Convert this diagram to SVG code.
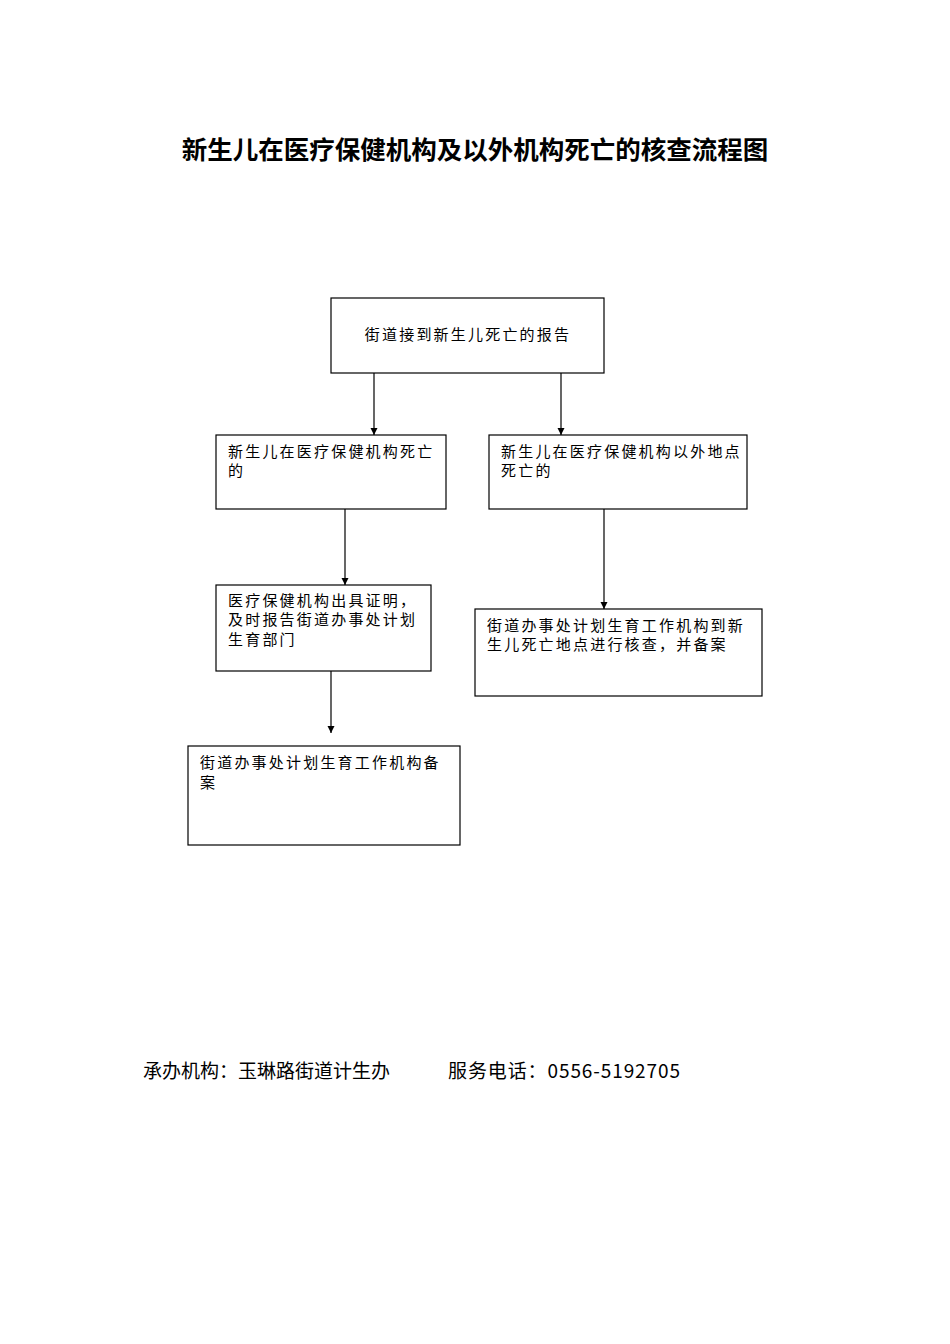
<svg xmlns="http://www.w3.org/2000/svg" width="950" height="1344" viewBox="0 0 950 1344">
<style>
.b{fill:#fff;stroke:#000;stroke-width:1.2}
.t{font-family:"Noto Sans CJK SC",sans-serif;font-size:15px;letter-spacing:2.2px;fill:#000}
.l{stroke:#000;stroke-width:1.2;fill:none;marker-end:url(#a)}
</style>
<defs><marker id="a" viewBox="0 0 10 10" refX="10" refY="5" markerWidth="7" markerHeight="8" markerUnits="userSpaceOnUse" orient="auto"><path d="M0,0L10,5L0,10z" fill="#000"/></marker></defs>
<rect width="950" height="1344" fill="#fff"/>
<text x="475" y="159" text-anchor="middle" font-family="'Noto Sans CJK SC',sans-serif" font-size="25.5" font-weight="bold">新生儿在医疗保健机构及以外机构死亡的核查流程图</text>
<g id="connectors">
<line class="l" x1="374" y1="373" x2="374" y2="435"/>
<line class="l" x1="561" y1="373" x2="561" y2="435"/>
<line class="l" x1="345" y1="509" x2="345" y2="585"/>
<line class="l" x1="604" y1="509" x2="604" y2="609"/>
<line class="l" x1="331" y1="671" x2="331" y2="733"/>
</g>
<g id="n1"><rect class="b" x="331" y="298" width="273" height="75"/><text class="t" x="468" y="340" text-anchor="middle">街道接到新生儿死亡的报告</text></g>
<g id="n2"><rect class="b" x="216" y="435" width="230" height="74"/><text class="t" x="228" y="457">新生儿在医疗保健机构死亡</text><text class="t" x="228" y="476">的</text></g>
<g id="n3"><rect class="b" x="489" y="435" width="258" height="74"/><text class="t" x="501" y="457">新生儿在医疗保健机构以外地点</text><text class="t" x="501" y="476">死亡的</text></g>
<g id="n4"><rect class="b" x="216" y="585" width="215" height="86"/><text class="t" x="228" y="606">医疗保健机构出具证明，</text><text class="t" x="228" y="625">及时报告街道办事处计划</text><text class="t" x="228" y="645">生育部门</text></g>
<g id="n5"><rect class="b" x="475" y="609" width="287" height="87"/><text class="t" x="487" y="631">街道办事处计划生育工作机构到新</text><text class="t" x="487" y="650">生儿死亡地点进行核查，并备案</text></g>
<g id="n6"><rect class="b" x="188" y="746" width="272" height="99"/><text class="t" x="200" y="768">街道办事处计划生育工作机构备</text><text class="t" x="200" y="788">案</text></g>
<text x="143" y="1078" font-family="'Noto Sans CJK SC',sans-serif" font-size="19">承办机构：玉琳路街道计生办</text>
<text x="448" y="1078" font-family="'Noto Sans CJK SC',sans-serif" font-size="19" letter-spacing="0.9">服务电话：0556-5192705</text>
</svg>
